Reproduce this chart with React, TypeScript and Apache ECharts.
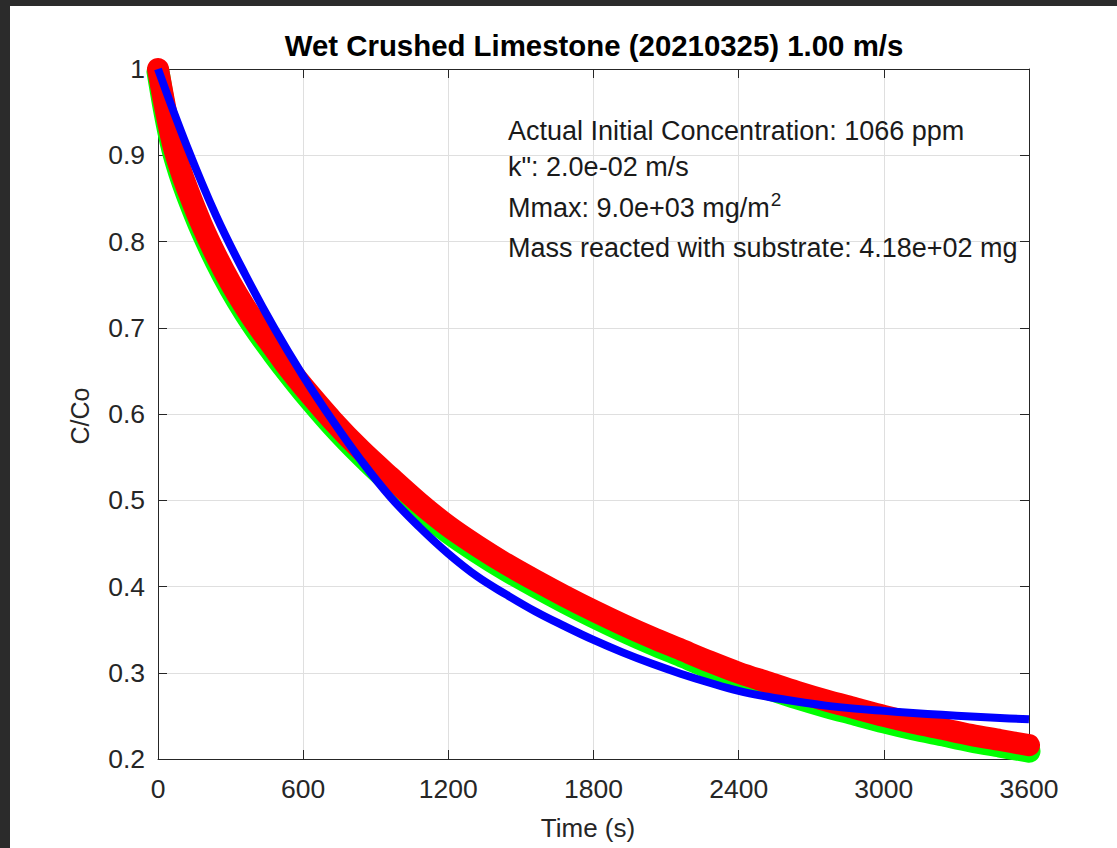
import React, { useEffect, useRef } from "react";
import * as echarts from "echarts";

const FONT = '"Liberation Sans", Arial, Helvetica, sans-serif';

const titleText = "Wet Crushed Limestone (20210325) 1.00 m/s";
const xLabel = "Time (s)";
const yLabel = "C/Co";
const annoLines = [
  "Actual Initial Concentration: 1066 ppm",
  'k": 2.0e-02 m/s',
  "Mmax: 9.0e+03 mg/m",
  "Mass reacted with substrate: 4.18e+02 mg",
];
const annoSup = "2";

// measured data (seconds)
const timeData = [0, 30, 60, 90, 120, 180, 240, 300, 360, 420, 480, 540, 600, 720, 840, 960, 1080, 1200, 1320, 1440, 1560, 1680, 1800, 1920, 2040, 2160, 2280, 2400, 2520, 2640, 2760, 2880, 3000, 3120, 3240, 3360, 3480, 3600];
const redValues = [1.0, 0.955, 0.915, 0.886, 0.862, 0.82, 0.784, 0.752, 0.724, 0.699, 0.676, 0.653, 0.632, 0.593, 0.558, 0.527, 0.497, 0.47, 0.447, 0.426, 0.407, 0.389, 0.372, 0.356, 0.341, 0.327, 0.313, 0.3, 0.289, 0.278, 0.268, 0.259, 0.25, 0.242, 0.235, 0.228, 0.222, 0.216];
const greenValues = [0.997, 0.948, 0.908, 0.879, 0.855, 0.813, 0.777, 0.745, 0.717, 0.692, 0.669, 0.647, 0.626, 0.587, 0.552, 0.52, 0.49, 0.463, 0.44, 0.419, 0.4, 0.382, 0.365, 0.349, 0.334, 0.32, 0.306, 0.293, 0.282, 0.271, 0.261, 0.252, 0.243, 0.235, 0.228, 0.221, 0.215, 0.209];

// model fit
const modelTime = [0, 120, 240, 360, 480, 600, 720, 840, 960, 1080, 1200, 1320, 1440, 1560, 1680, 1800, 1920, 2040, 2160, 2280, 2400, 2520, 2640, 2760, 2880, 3000, 3120, 3240, 3360, 3480, 3600];
const modelValues = [1.0, 0.91, 0.83, 0.762, 0.7, 0.644, 0.593, 0.546, 0.504, 0.469, 0.438, 0.4115, 0.3905, 0.371, 0.354, 0.338, 0.3236, 0.3106, 0.2989, 0.2884, 0.279, 0.2722, 0.2666, 0.2619, 0.2584, 0.2558, 0.2534, 0.2512, 0.2493, 0.2476, 0.246];

const xTicks = { min: 0, max: 3600, interval: 600 };
const yTicks = { min: 0.2, max: 1, interval: 0.1 };

export default function App() {
  const ref = useRef<HTMLDivElement>(null);
  useEffect(() => {
    const chart = echarts.init(ref.current!, null, { renderer: "svg" });
    const ctx = document.createElement("canvas").getContext("2d")!;
    const annoSize = 27;
    ctx.font = `${annoSize}px ${FONT}`;
    const line3W = ctx.measureText(annoLines[2]).width;

    const G = { left: 158, top: 69, width: 871, height: 690 };
    const axisColor = "#262626";
    const gridColor = "#dfdfdf";
    const tickFont = 26.5;

    const mainX = {
      type: "value", ...xTicks, position: "bottom",
      axisLine: { show: true, onZero: false, lineStyle: { color: axisColor, width: 1 } },
      axisTick: { show: true, inside: true, length: 9, lineStyle: { color: axisColor } },
      axisLabel: { color: axisColor, fontSize: tickFont, fontFamily: FONT, margin: 16, formatter: (v: number) => String(v) },
      splitLine: { show: true, lineStyle: { color: gridColor, width: 1 } },
    };
    const topX = {
      type: "value", ...xTicks, position: "top",
      axisLine: { show: true, onZero: false, lineStyle: { color: axisColor, width: 1 } },
      axisTick: { show: true, inside: true, length: 9, lineStyle: { color: axisColor } },
      axisLabel: { show: false },
      splitLine: { show: false },
    };
    const mainY = {
      type: "value", ...yTicks, position: "left",
      axisLine: { show: true, onZero: false, lineStyle: { color: axisColor, width: 1 } },
      axisTick: { show: true, inside: true, length: 9, lineStyle: { color: axisColor } },
      axisLabel: { color: axisColor, fontSize: tickFont, fontFamily: FONT, margin: 13, formatter: (v: number) => String(+v.toFixed(1)) },
      splitLine: { show: true, lineStyle: { color: gridColor, width: 1 } },
    };
    const rightY = {
      type: "value", ...yTicks, position: "right",
      axisLine: { show: true, onZero: false, lineStyle: { color: axisColor, width: 1 } },
      axisTick: { show: true, inside: true, length: 9, lineStyle: { color: axisColor } },
      axisLabel: { show: false },
      splitLine: { show: false },
    };

    const option = {
      animation: false,
      backgroundColor: "#ffffff",
      grid: { ...G, containLabel: false },
      xAxis: [mainX, topX],
      yAxis: [mainY, rightY],
      series: [
        {
          name: "Data (raw)", type: "line", xAxisIndex: 0, yAxisIndex: 0,
          data: timeData.map((t, i) => [t, greenValues[i]]),
          showSymbol: false, smooth: 0.3, clip: false, z: 2,
          itemStyle: { color: "#00ff00" },
          lineStyle: { color: "#00ff00", width: 23, cap: "round", join: "round" },
        },
        {
          name: "Data", type: "line", xAxisIndex: 0, yAxisIndex: 0,
          data: timeData.map((t, i) => [t, redValues[i]]),
          showSymbol: false, smooth: 0.3, clip: false, z: 3,
          itemStyle: { color: "#ff0000" },
          lineStyle: { color: "#ff0000", width: 22, cap: "round", join: "round" },
        },
        {
          name: "Model", type: "line", xAxisIndex: 0, yAxisIndex: 0,
          data: modelTime.map((t, i) => [t, modelValues[i]]),
          showSymbol: false, smooth: 0.4, z: 4,
          itemStyle: { color: "#0000ff" },
          lineStyle: { color: "#0000ff", width: 8, join: "round" },
        },
      ],
      graphic: {
        elements: [
          { type: "rect", silent: true, shape: { x: 0, y: 0, width: 1117, height: 6 }, style: { fill: "#2b2b2b" } },
          { type: "rect", silent: true, shape: { x: 0, y: 0, width: 10, height: 848 }, style: { fill: "#2b2b2b" } },
          {
            type: "text", x: 594, y: 45, z: 100,
            style: { text: titleText, fill: "#000000", fontSize: 29.4, fontWeight: "bold", fontFamily: FONT, align: "center", verticalAlign: "middle" },
          },
          {
            type: "text", x: 588, y: 828, z: 100,
            style: { text: xLabel, fill: axisColor, fontSize: 26, fontFamily: FONT, align: "center", verticalAlign: "middle" },
          },
          {
            type: "text", x: 80, y: 416, rotation: Math.PI / 2, z: 100,
            style: { text: yLabel, fill: axisColor, fontSize: 25, fontFamily: FONT, align: "center", verticalAlign: "middle" },
          },
          ...annoLines.map((t, i) => ({
            type: "text", x: 508, y: [131, 167, 208, 247.5][i], z: 100,
            style: { text: t, fill: "#1a1a1a", fontSize: annoSize, fontFamily: FONT, align: "left", verticalAlign: "middle" },
          })),
          {
            type: "text", x: 508 + line3W + 1, y: 199, z: 100,
            style: { text: annoSup, fill: "#1a1a1a", fontSize: 19, fontFamily: FONT, align: "left", verticalAlign: "middle" },
          },
        ],
      },
    };
    chart.setOption(option as any);
    return () => chart.dispose();
  }, []);
  return (
    <div style={{ position: "fixed", left: 0, top: 0, width: 1117, height: 848, background: "#fff" }}>
      <div ref={ref} style={{ width: 1117, height: 848 }} />
    </div>
  );
}
